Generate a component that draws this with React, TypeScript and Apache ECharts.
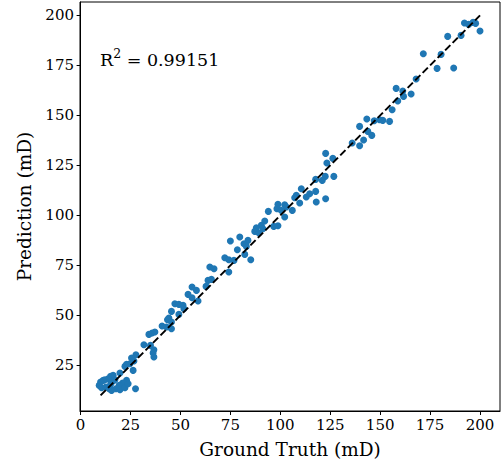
import React, { useEffect, useRef } from "react";
import * as echarts from "echarts";

const groundTruth: number[] = [
  192.2, 194.3, 196.5, 197.8, 200, 190.5, 183.8, 171.6, 180.5, 178.5, 186.8, 168, 158, 161.3, 165.5, 161.7, 158.8, 156,
  143.3, 147, 149.7, 151.3, 154.7, 139.7, 143.8, 145.8, 141.7, 136, 139.7, 126.3,
  122.7, 123.3, 122.5, 126.8, 117.7, 121, 110.5, 114.7, 117.7, 113, 108, 107.2, 109.7, 118, 122.7,
  98.8, 102.2, 98.3, 100.5, 103, 102.2, 106, 94, 92.2, 90.5, 91.3, 96.7, 98.8, 87.2, 89.3, 88,
  79.7, 83.8, 75, 81.8, 83, 78.5, 82.2, 85.2, 72.2, 74.2, 76.8, 74.2, 64.7, 66.8, 63.8, 65.5, 62.8,
  55.8, 53.8, 58, 55.8, 58.8, 47.2, 49.2, 51.3, 45.5, 49.2, 51.7, 44.2, 43.5, 40.8, 43, 45.5, 45.5, 34.2, 35.8, 37.2,
  31.7, 35, 36.7, 36.3, 36.7, 27.7, 25.5, 26.7, 24.7, 22.2, 23, 26.3, 19.7,
  16.3, 15, 13.8, 12.2, 11.3, 10, 9.3, 10.5, 12.7, 15, 16.3, 17.2,
  23, 21, 19.3, 17.7, 19.7, 22.2, 23.8, 27.5, 14.3, 15.5,
];

const prediction: number[] = [
  196.2, 195.5, 196.5, 196, 192.2, 190, 189.5, 180.8, 180.5, 173.5, 173.7, 168.2, 163.5, 162.2, 160.7, 159.5, 157.2, 152.8,
  148.2, 147.3, 147.8, 147.5, 147, 144.5, 142, 140, 137.7, 136.2, 134.8, 128.5,
  131, 126.2, 119.5, 119.5, 118, 117.5, 113.3, 110.8, 112, 109.2, 110, 108.8, 106.2, 106.7, 108.3,
  105.5, 105.3, 103.3, 102.5, 104.2, 99.2, 102.5, 102, 97.2, 95, 93.3, 94.5, 94.8, 92, 91.2, 93.8,
  89.2, 87.5, 87.2, 85.8, 84.5, 82.8, 80.5, 77.8, 78.8, 77.8, 77.5, 71.7, 74.2, 73.3, 67.5, 68, 64.5,
  64.2, 60.5, 62.5, 58.8, 57.2, 55.8, 55.5, 55, 52, 50.5, 53.3, 48.7, 47.8, 44.7, 44.2, 43.3, 46.7, 40.5, 41.2, 41.7,
  35.3, 35, 32.8, 31.2, 29.2, 30.3, 28.7, 27.2, 25.8, 24.5, 25.5, 22.5, 21.2,
  20, 19.5, 18.3, 17.8, 17.5, 16.7, 15, 13.8, 14.2, 15.5, 17.2, 17.8,
  17.5, 16.2, 15, 13.3, 12.8, 13.8, 15.8, 13.3, 13.3, 12.5,
];

const xTicks: number[] = [0, 25, 50, 75, 100, 125, 150, 175, 200];
const yTicks: number[] = [25, 50, 75, 100, 125, 150, 175, 200];
const identityLine: number[] = [10, 200];

const xLabel = "Ground Truth (mD)";
const yLabel = "Prediction (mD)";
const r2Text = "0.99151";

const FONT = "DejaVu Serif";

export default function App() {
  const ref = useRef<HTMLDivElement>(null);
  useEffect(() => {
    if (!ref.current) return;
    const chart = echarts.init(ref.current, undefined, { renderer: "svg" });
    const points = groundTruth.map((g, i) => [g, prediction[i]]);
    chart.setOption({
      animation: false,
      backgroundColor: "#fff",
      grid: {
        left: 80,
        top: 2,
        width: 420,
        height: 409,
        show: true,
        borderColor: "#000",
        borderWidth: 1,
      },
      xAxis: {
        type: "value",
        min: -0.3,
        max: 210,
        name: xLabel,
        nameLocation: "middle",
        nameGap: 29,
        nameTextStyle: { fontFamily: FONT, fontSize: 18.5, color: "#000" },
        axisLine: { show: true, lineStyle: { color: "#000", width: 1 } },
        axisTick: { show: true, length: 4, lineStyle: { color: "#000" }, customValues: xTicks },
        axisLabel: { fontFamily: FONT, fontSize: 15, color: "#000", margin: 6, customValues: xTicks },
        splitLine: { show: false },
      },
      yAxis: {
        type: "value",
        min: 2.2,
        max: 206.7,
        name: yLabel,
        nameLocation: "middle",
        nameGap: 46,
        nameTextStyle: { fontFamily: FONT, fontSize: 18.5, color: "#000" },
        axisLine: { show: true, lineStyle: { color: "#000", width: 1 } },
        axisTick: { show: true, length: 4, lineStyle: { color: "#000" }, customValues: yTicks },
        axisLabel: { fontFamily: FONT, fontSize: 15, color: "#000", margin: 6, customValues: yTicks },
        splitLine: { show: false },
      },
      series: [
        {
          type: "scatter",
          data: points,
          symbol: "circle",
          symbolSize: 7,
          itemStyle: { color: "#1f77b4", opacity: 1 },
        },
        {
          type: "line",
          data: identityLine.map((v) => [v, v]),
          symbol: "none",
          lineStyle: { color: "#000", width: 2, type: [7.4, 3.2] },
          z: 3,
        },
      ],
      graphic: [
        {
          type: "text",
          x: 100,
          y: 58,
          style: {
            text: "{a|R}{b|2}{a| = " + r2Text + "}",
            verticalAlign: "middle",
            rich: {
              a: { fontFamily: FONT, fontSize: 17.5, fill: "#000", lineHeight: 22, verticalAlign: "bottom" },
              b: { fontFamily: FONT, fontSize: 12.5, fill: "#000", lineHeight: 22, verticalAlign: "top" },
            },
          },
        },
      ],
    });
    return () => chart.dispose();
  }, []);
  return (
    <div
      ref={ref}
      style={{ position: "fixed", left: 0, top: 0, width: 502, height: 466, background: "#fff" }}
    />
  );
}
